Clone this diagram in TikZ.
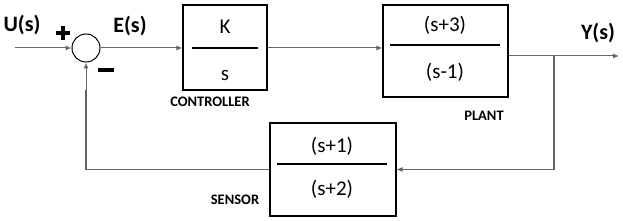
\documentclass[tikz,border=0pt]{standalone}
\usepackage{fontspec}
\setmainfont{Carlito}
\usetikzlibrary{positioning,arrows.meta}

\begin{document}
\begin{tikzpicture}[x=1pt, y=-1pt,
  block/.style={draw=black, line width=1.1pt, inner sep=0pt},
  frac/.style={font=\fontsize{21}{23}\selectfont, inner sep=0pt},
  bar/.style={line width=2pt},
  sig/.style={font=\bfseries\fontsize{22}{24}\selectfont, inner sep=0pt},
  tag/.style={font=\bfseries\fontsize{14.5}{16}\selectfont, inner sep=0pt},
  wire/.style={draw=black!60, line width=1pt, -{Latex[length=6pt,width=5pt]}},
  line/.style={draw=black!60, line width=1.3pt}
]
\useasboundingbox (0,0) rectangle (623,221);

% Blocks
\node[block, minimum width=84pt, minimum height=85pt] (ctrl) at (225,47.5) {};
\node[block, minimum width=125pt, minimum height=92pt] (plant) at (445.5,51) {};
\node[block, minimum width=126pt, minimum height=93pt] (sensor) at (333,169.5) {};
\node[draw=black, line width=1pt, circle, minimum size=28pt, inner sep=0pt] (sum) at (86,48) {};

% Transfer functions
\node[frac] (k) at (225,27) {K};
\node[frac] (ks) at (225,75) {s};
\draw[bar] (192,48) -- (258,48);
\node[frac] (pnum) at (445,25) {(s+3)};
\node[frac] (pden) at (445,72) {(s-1)};
\draw[bar] (390,45) -- (500,45);
\node[frac] (snum) at (332,146) {(s+1)};
\node[frac] (sden) at (332,189) {(s+2)};
\draw[bar] (277,164) -- (387,164);

% Labels
\node[sig] (u) at (22,25) {U(s)};
\node[sig] (e) at (130,26) {E(s)};
\node[sig] (y) at (598,33) {Y(s)};
\draw[line width=4pt] (56,33) -- (70,33) (63,26) -- (63,40);
\draw[line width=3.5pt] (98,70) -- (114,70);
\node[tag] (ctrltag) at (210,102) {CONTROLLER};
\node[tag] (planttag) at (484,116) {PLANT};
\node[tag] (sensortag) at (235,200) {SENSOR};

% Signal flow
\coordinate (uin) at (15,48);
\coordinate (branch) at (554,56);
\coordinate (yout) at (619,56);
\draw[wire] (uin) -- (sum.west);
\draw[wire] (sum.east) -- (ctrl.west |- sum.east);
\draw[wire] (ctrl.east |- sum.east) -- (plant.west |- sum.east);
\draw[wire] (plant.east |- branch) -- (yout);
\draw[line] (branch) |- (sensor.east);
\draw[wire] (branch |- sensor.east) -- (sensor.east);
\draw[line] (sensor.west) -| (86,90);
\draw[wire] (86,90) -- (sum.south);
\end{tikzpicture}
\end{document}
